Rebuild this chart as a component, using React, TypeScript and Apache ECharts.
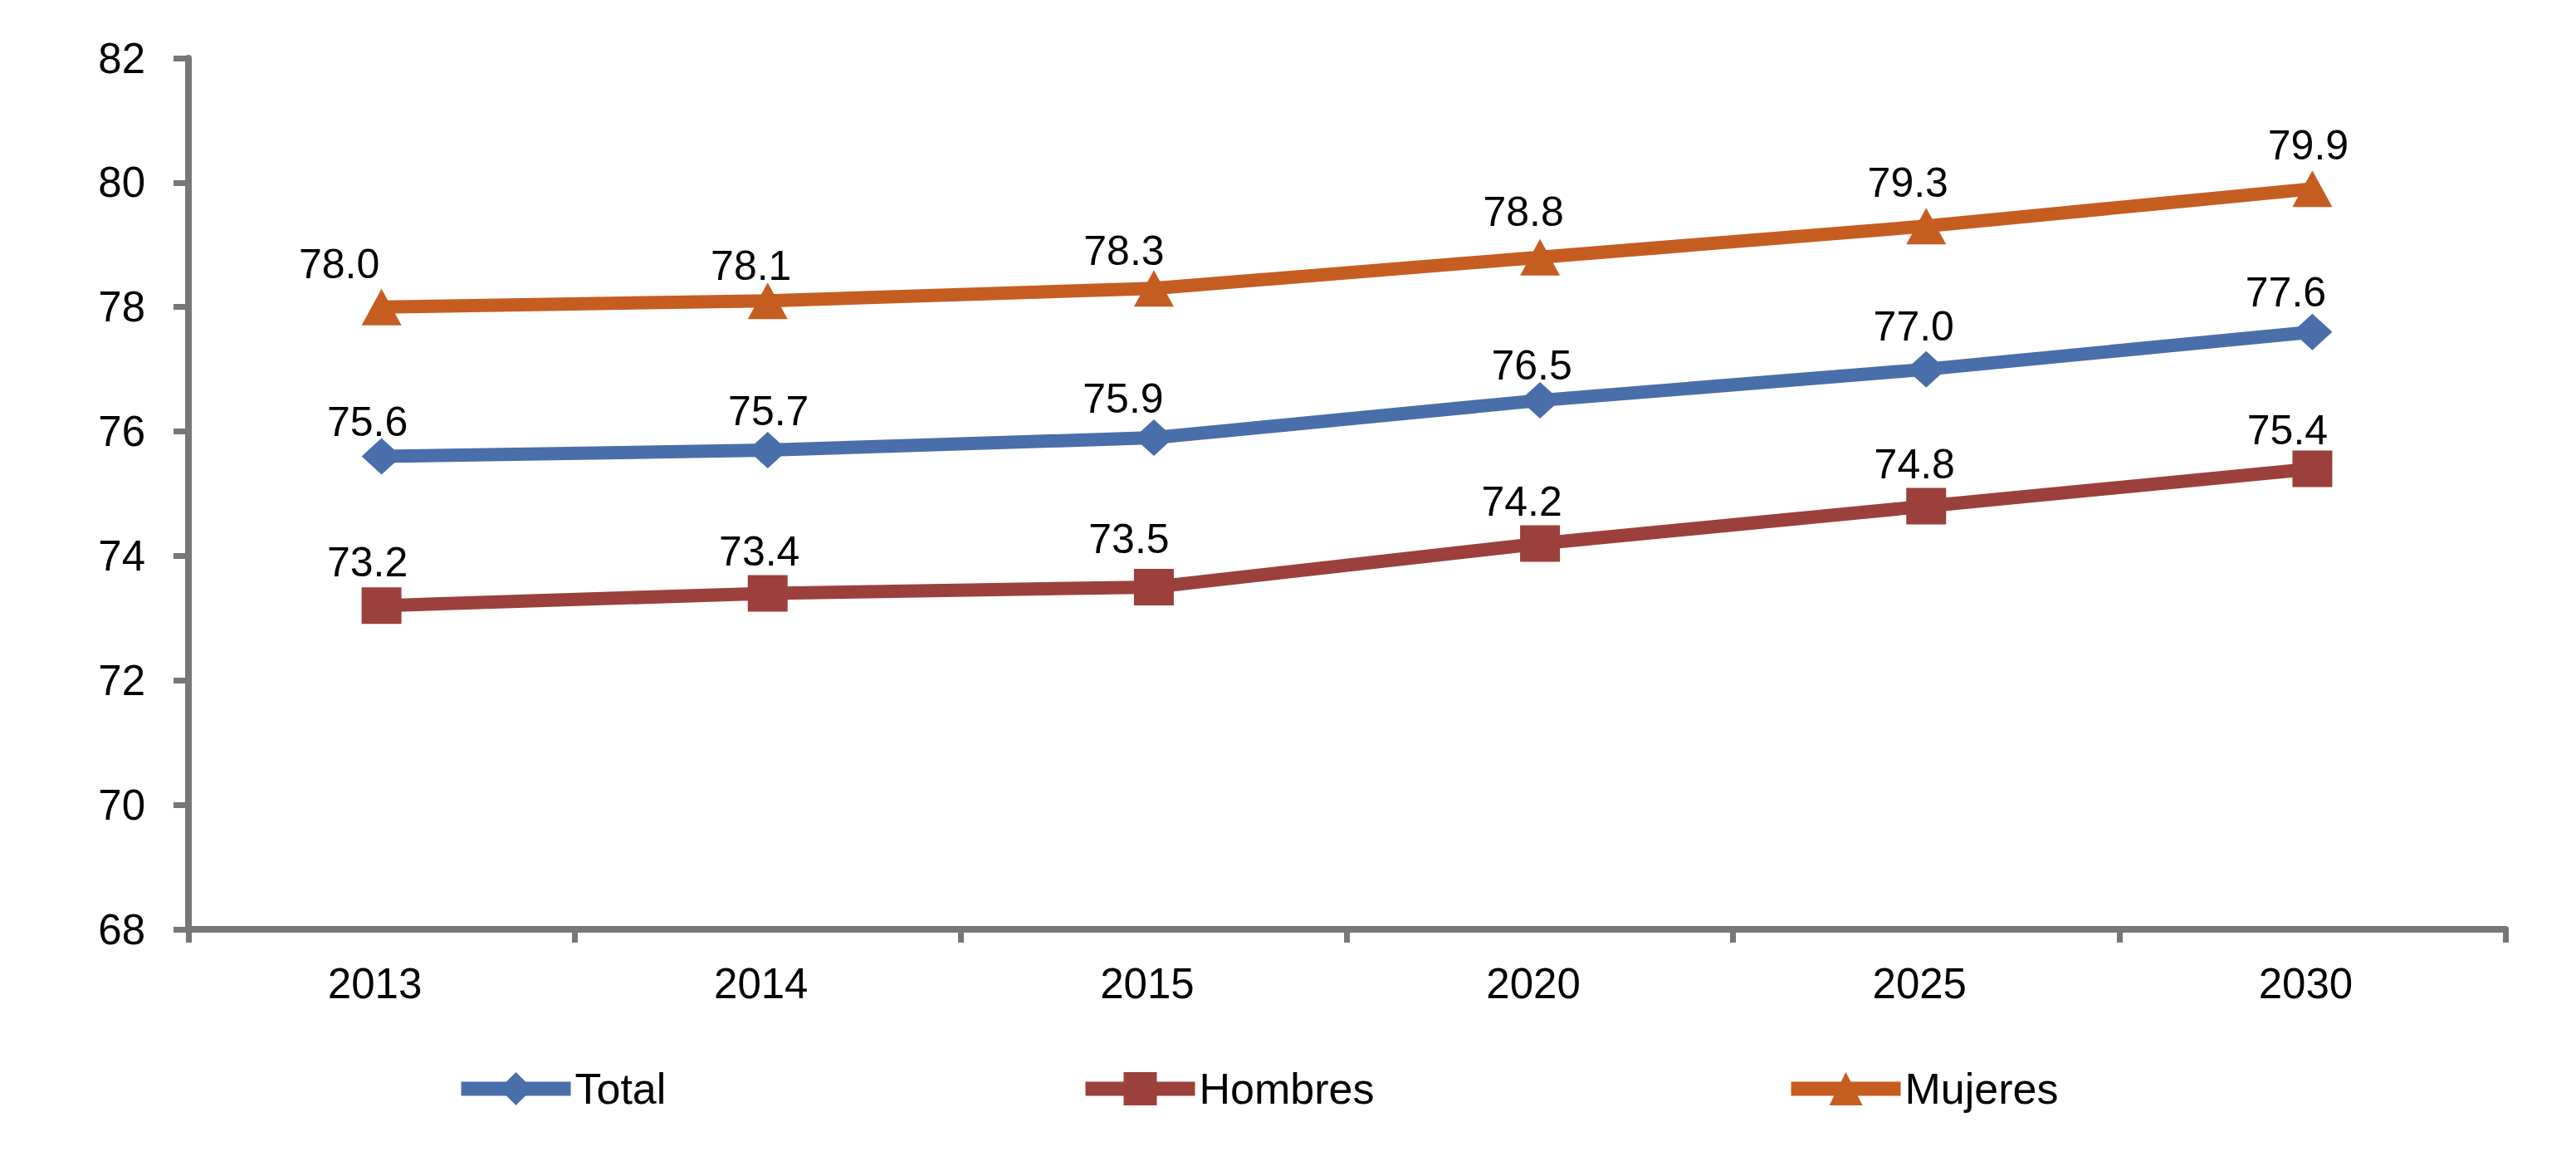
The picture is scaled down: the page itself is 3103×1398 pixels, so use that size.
import React, { useEffect, useRef } from "react";
import * as echarts from "echarts";

const categories = ["2013", "2014", "2015", "2020", "2025", "2030"];
const totalValues = [75.6, 75.7, 75.9, 76.5, 77.0, 77.6];
const hombresValues = [73.2, 73.4, 73.5, 74.2, 74.8, 75.4];
const mujeresValues = [78.0, 78.1, 78.3, 78.8, 79.3, 79.9];
const yMin = 68;
const yMax = 82;
const yInterval = 2;

// label placement relative to each marker (pixels)
const totalLabelOffsets = [[-17, -42], [1, -47], [-37, -47], [-10, -42], [-15, -52], [-32, -48]];
const hombresLabelOffsets = [[-17, -52], [-10, -50], [-30, -58], [-22, -50], [-14, -50], [-30, -47]];
const mujeresLabelOffsets = [[-51, -52], [-20, -42], [-36, -45], [-20, -55], [-22, -52], [-5, -52]];

const FONT = "'Liberation Sans', Arial, Helvetica, sans-serif";
const BLUE = "#4A6EA9";
const RED = "#9C403D";
const ORANGE = "#C65D20";
const AXIS = "#777777";

function buildSeries(name: string, values: number[], offsets: number[][], color: string, symbol: string) {
  return {
    name,
    type: "line",
    data: values.map((v, i) => ({
      value: v,
      label: { offset: offsets[i] },
    })),
    symbol,
    symbolSize: [48, 44],
    lineStyle: { color, width: 16 },
    itemStyle: { color },
    label: {
      show: true,
      position: "inside",
      formatter: (p: any) => Number(p.value).toFixed(1),
      fontFamily: FONT,
      fontSize: 50,
      color: "#000000",
    },
    z: 3,
  };
}

function buildLegend(name: string, left: number) {
  return {
    data: [name],
    left,
    top: 1285,
    padding: 0,
    orient: "horizontal",
    itemWidth: 132,
    itemHeight: 50,
    lineStyle: { width: 17 },
    textStyle: { fontFamily: FONT, fontSize: 52, color: "#000000" },
    selectedMode: false,
  };
}

export default function App() {
  const ref = useRef<HTMLDivElement>(null);

  useEffect(() => {
    if (!ref.current) return;
    const chart = echarts.init(ref.current, undefined, { renderer: "svg" });
    chart.setOption({
      animation: false,
      backgroundColor: "#ffffff",
      grid: {
        left: 227,
        right: 85,
        top: 70,
        bottom: 279,
        containLabel: false,
        outerBoundsMode: "none",
      },
      legend: [
        buildLegend("Total", 547),
        buildLegend("Hombres", 1299),
        buildLegend("Mujeres", 2149),
      ],
      xAxis: {
        type: "category",
        data: categories,
        boundaryGap: true,
        axisLine: { show: true, lineStyle: { color: AXIS, width: 8 } },
        axisTick: { show: true, length: 16, lineStyle: { color: AXIS, width: 7 } },
        axisLabel: {
          margin: 40,
          fontFamily: FONT,
          fontSize: 51,
          color: "#000000",
          padding: [0, 16, 0, 0],
        },
        splitLine: { show: false },
      },
      yAxis: {
        type: "value",
        min: yMin,
        max: yMax,
        interval: yInterval,
        axisLine: { show: true, lineStyle: { color: AXIS, width: 8 } },
        axisTick: { show: true, length: 18, lineStyle: { color: AXIS, width: 7 } },
        axisLabel: {
          margin: 52,
          fontFamily: FONT,
          fontSize: 51,
          color: "#000000",
        },
        splitLine: { show: false },
      },
      series: [
        buildSeries("Total", totalValues, totalLabelOffsets, BLUE, "diamond"),
        buildSeries("Hombres", hombresValues, hombresLabelOffsets, RED, "rect"),
        buildSeries("Mujeres", mujeresValues, mujeresLabelOffsets, ORANGE, "triangle"),
      ],
    });
    return () => {
      chart.dispose();
    };
  }, []);

  return (
    <div
      ref={ref}
      style={{ position: "absolute", left: 0, top: 0, width: "3103px", height: "1398px" }}
    />
  );
}
